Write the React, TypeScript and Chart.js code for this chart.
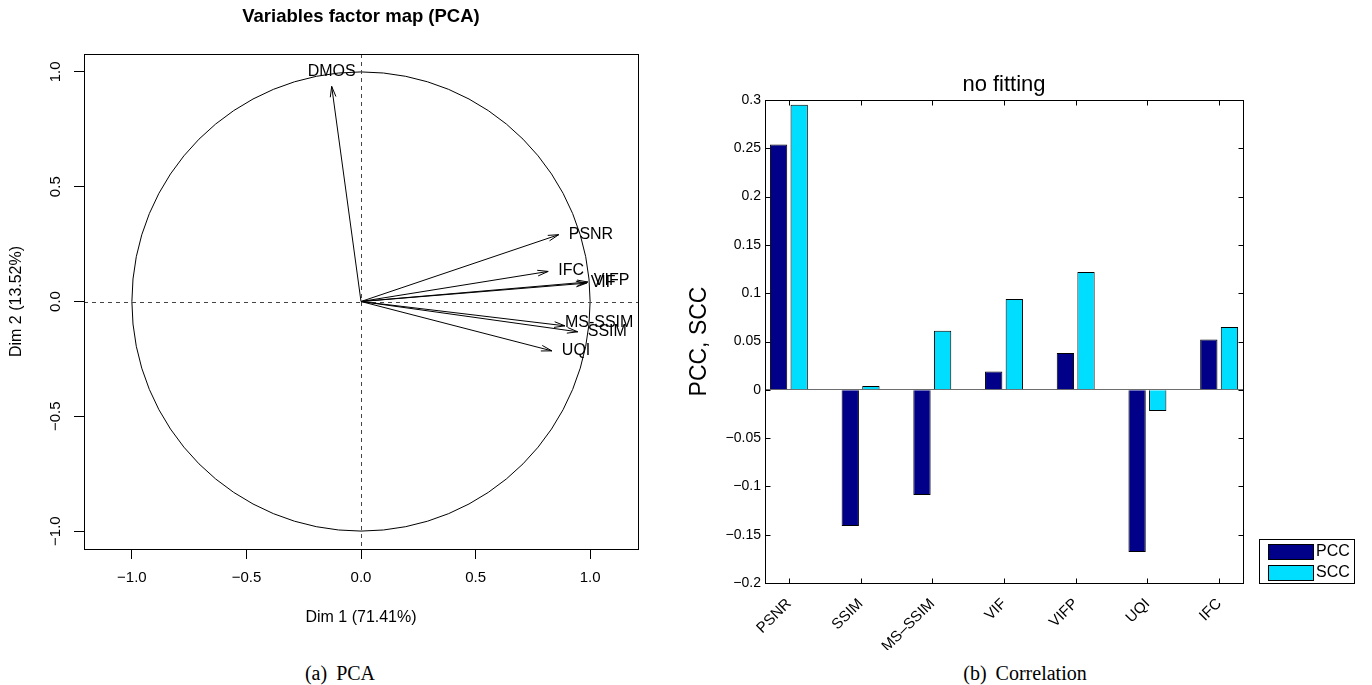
import React, { useEffect, useRef } from 'react';
import { Chart, registerables } from 'chart.js';

Chart.register(...registerables);

// ---------- PCA (left) data ----------
const PCA_VARS = ['DMOS', 'PSNR', 'IFC', 'VIFP', 'VIF', 'MS-SSIM', 'SSIM', 'UQI'];
const PCA_DIM1 = [-0.128, 0.863, 0.817, 0.99, 0.985, 0.89, 0.946, 0.833];
const PCA_DIM2 = [0.937, 0.291, 0.131, 0.085, 0.08, -0.106, -0.132, -0.215];
const PCA_TICKS = [-1, -0.5, 0, 0.5, 1];

// ---------- Correlation (right) data ----------
const METRICS = ['PSNR', 'SSIM', 'MS\u2013SSIM', 'VIF', 'VIFP', 'UQI', 'IFC'];
const PCC = [0.254, -0.141, -0.109, 0.019, 0.038, -0.168, 0.052];
const SCC = [0.295, 0.004, 0.061, 0.094, 0.122, -0.022, 0.065];
const CORR_TICKS = [-0.2, -0.15, -0.1, -0.05, 0, 0.05, 0.1, 0.15, 0.2, 0.25, 0.3];

const SANS = "'Liberation Sans', Arial, Helvetica, sans-serif";

// label placement styling for PCA arrows (pixel nudges, style only)
const LABEL_NUDGE: Record<string, [number, number, CanvasTextAlign, CanvasTextBaseline]> = {
  DMOS: [0, -7, 'center', 'bottom'],
  PSNR: [10, 0, 'left', 'middle'],
  IFC: [10, -1, 'left', 'middle'],
  VIFP: [6, -1, 'left', 'middle'],
  VIF: [4, -1, 'left', 'middle'],
  'MS-SSIM': [0, -3, 'left', 'middle'],
  SSIM: [10, 0, 'left', 'middle'],
  UQI: [10, 0, 'left', 'middle'],
};

const minusFmt = (s: string) => s.replace('-', '\u2212');

const pcaPlugin = {
  id: 'pcaDecor',
  beforeDatasetsDraw(chart: any) {
    const { ctx, chartArea: ca, scales } = chart;
    const xs = scales.x, ys = scales.y;
    const cx = xs.getPixelForValue(0), cy = ys.getPixelForValue(0);
    const rx = xs.getPixelForValue(1) - cx;
    const ry = cy - ys.getPixelForValue(1);
    ctx.save();
    ctx.strokeStyle = '#000';
    ctx.lineWidth = 1;
    ctx.beginPath();
    ctx.ellipse(cx, cy, rx, ry, 0, 0, Math.PI * 2);
    ctx.stroke();
    ctx.setLineDash([4, 4]);
    ctx.strokeStyle = '#444';
    ctx.beginPath();
    ctx.moveTo(ca.left, Math.round(cy) + 0.5);
    ctx.lineTo(ca.right, Math.round(cy) + 0.5);
    ctx.moveTo(Math.round(cx) + 0.5, ca.top);
    ctx.lineTo(Math.round(cx) + 0.5, ca.bottom);
    ctx.stroke();
    ctx.restore();
  },
  afterDatasetsDraw(chart: any) {
    const { ctx, chartArea: ca } = chart;
    ctx.save();
    ctx.strokeStyle = '#000';
    ctx.fillStyle = '#000';
    ctx.lineWidth = 1;
    chart.data.datasets.forEach((ds: any, i: number) => {
      const meta = chart.getDatasetMeta(i);
      const p0 = meta.data[0], p1 = meta.data[1];
      const ang = Math.atan2(p1.y - p0.y, p1.x - p0.x);
      const len = 11, spread = (15 * Math.PI) / 180;
      ctx.beginPath();
      ctx.moveTo(p1.x - len * Math.cos(ang - spread), p1.y - len * Math.sin(ang - spread));
      ctx.lineTo(p1.x, p1.y);
      ctx.lineTo(p1.x - len * Math.cos(ang + spread), p1.y - len * Math.sin(ang + spread));
      ctx.stroke();
      const nd = LABEL_NUDGE[ds.label] || [8, 0, 'left', 'middle'];
      ctx.font = `16px ${SANS}`;
      ctx.textAlign = nd[2];
      ctx.textBaseline = nd[3];
      ctx.fillText(ds.label, p1.x + nd[0], p1.y + nd[1]);
    });
    ctx.strokeRect(Math.round(ca.left) + 0.5, Math.round(ca.top) + 0.5, Math.round(ca.right - ca.left), Math.round(ca.bottom - ca.top));
    ctx.restore();
  },
};

const corrPlugin = {
  id: 'corrDecor',
  afterDraw(chart: any) {
    const { ctx, chartArea: ca, scales } = chart;
    const xs = scales.x, ys = scales.y;
    ctx.save();
    ctx.strokeStyle = '#000';
    ctx.lineWidth = 1;
    const L = Math.round(ca.left) + 0.5, R = Math.round(ca.right) + 0.5;
    const T = Math.round(ca.top) + 0.5, B = Math.round(ca.bottom) + 0.5;
    ctx.strokeRect(L, T, R - L, B - T);
    ctx.beginPath();
    ys.ticks.forEach((t: any) => {
      const y = Math.round(ys.getPixelForValue(t.value)) + 0.5;
      ctx.moveTo(L, y); ctx.lineTo(L + 5, y);
      ctx.moveTo(R, y); ctx.lineTo(R - 5, y);
    });
    xs.ticks.forEach((t: any) => {
      const x = Math.round(xs.getPixelForValue(t.value)) + 0.5;
      ctx.moveTo(x, T); ctx.lineTo(x, T + 5);
      ctx.moveTo(x, B); ctx.lineTo(x, B - 5);
    });
    ctx.stroke();
    // legend box
    const x0 = Math.round(ca.right) + 16, y0 = Math.round(ca.bottom) - 44;
    ctx.strokeRect(x0 + 0.5, y0 + 0.5, 95, 44);
    chart.data.datasets.forEach((ds: any, i: number) => {
      const sy = y0 + 5 + i * 21;
      ctx.fillStyle = ds.backgroundColor;
      ctx.fillRect(x0 + 9, sy, 45, 15);
      ctx.strokeRect(x0 + 9.5, sy + 0.5, 45, 15);
      ctx.fillStyle = '#000';
      ctx.font = `16px ${SANS}`;
      ctx.textAlign = 'left';
      ctx.textBaseline = 'middle';
      ctx.fillText(ds.label, x0 + 57, sy + 8);
    });
    ctx.restore();
  },
};

function PcaChart() {
  const ref = useRef<HTMLCanvasElement>(null);
  useEffect(() => {
    const chart = new Chart(ref.current as HTMLCanvasElement, {
      type: 'scatter',
      data: {
        datasets: PCA_VARS.map((name, i) => ({
          label: name,
          data: [{ x: 0, y: 0 }, { x: PCA_DIM1[i], y: PCA_DIM2[i] }],
          showLine: true,
          borderColor: '#000',
          borderWidth: 1,
          pointRadius: 0,
          fill: false,
        })),
      },
      options: {
        animation: false,
        responsive: false,
        maintainAspectRatio: false,
        layout: { padding: { left: 0, right: 42, top: 0, bottom: 0 } },
        plugins: {
          legend: { display: false },
          tooltip: { enabled: false },
          title: {
            display: true,
            fullSize: false,
            text: 'Variables factor map (PCA)',
            color: '#000',
            font: { family: SANS, size: 18.5, weight: 'bold' },
            padding: { top: 6, bottom: 25.8 },
          },
        },
        scales: {
          x: {
            type: 'linear',
            min: -1.209,
            max: 1.209,
            afterBuildTicks: (s: any) => { s.ticks = PCA_TICKS.map((v) => ({ value: v })); },
            afterFit: (s: any) => { s.height = 101; },
            grid: { display: true, drawOnChartArea: false, drawTicks: true, tickLength: 10, tickColor: '#000', color: '#000' },
            border: { display: false },
            ticks: { padding: 10, color: '#000', font: { family: SANS, size: 15 }, callback: (v: any) => minusFmt(Number(v).toFixed(1)) },
            title: { display: true, text: 'Dim 1 (71.41%)', color: '#000', font: { family: SANS, size: 16 }, padding: { top: 0, bottom: 23 } },
          },
          y: {
            type: 'linear',
            min: -1.078,
            max: 1.078,
            afterBuildTicks: (s: any) => { s.ticks = PCA_TICKS.map((v) => ({ value: v })); },
            afterFit: (s: any) => { s.width = 84; },
            grid: { display: true, drawOnChartArea: false, drawTicks: true, tickLength: 10, tickColor: '#000', color: '#000' },
            border: { display: false },
            ticks: { padding: 3, minRotation: 90, maxRotation: 90, crossAlign: 'center', color: '#000', font: { family: SANS, size: 15 }, callback: (v: any) => minusFmt(Number(v).toFixed(1)) },
            title: { display: true, text: 'Dim 2 (13.52%)', color: '#000', font: { family: SANS, size: 16 }, padding: { top: 7, bottom: 0 } },
          },
        },
      } as any,
      plugins: [pcaPlugin],
    });
    return () => chart.destroy();
  }, []);
  return <canvas ref={ref} width={680} height={650} style={{ display: 'block' }} />;
}

function CorrChart() {
  const ref = useRef<HTMLCanvasElement>(null);
  useEffect(() => {
    const chart = new Chart(ref.current as HTMLCanvasElement, {
      type: 'bar',
      data: {
        datasets: [
          {
            label: 'PCC',
            data: PCC.map((v, i) => ({ x: i + 1, y: v })),
            backgroundColor: '#000088',
            borderColor: '#000',
            borderWidth: 1,
            categoryPercentage: 0.575,
            barPercentage: 0.84,
          },
          {
            label: 'SCC',
            data: SCC.map((v, i) => ({ x: i + 1, y: v })),
            backgroundColor: '#00DEFF',
            borderColor: '#000',
            borderWidth: 1,
            categoryPercentage: 0.575,
            barPercentage: 0.84,
          },
        ],
      },
      options: {
        animation: false,
        responsive: false,
        maintainAspectRatio: false,
        layout: { padding: { left: 0, right: 129, top: 0, bottom: 0 } },
        plugins: {
          legend: { display: false },
          tooltip: { enabled: false },
          title: {
            display: true,
            fullSize: false,
            text: 'no fitting',
            color: '#000',
            font: { family: SANS, size: 22, weight: 'normal' },
            padding: { top: 72, bottom: 1.6 },
          },
        },
        scales: {
          x: {
            type: 'linear',
            min: 0.667,
            max: 7.333,
            offset: false,
            afterBuildTicks: (s: any) => { s.ticks = METRICS.map((_, i) => ({ value: i + 1 })); },
            afterFit: (s: any) => { s.height = 67; },
            grid: { display: false },
            border: { display: false },
            ticks: {
              autoSkip: false,
              minRotation: 45,
              maxRotation: 45,
              padding: 4,
              color: '#000',
              font: { family: SANS, size: 15 },
              callback: (v: any) => METRICS[Math.round(Number(v)) - 1],
            },
          },
          y: {
            type: 'linear',
            min: -0.2,
            max: 0.3,
            afterBuildTicks: (s: any) => { s.ticks = CORR_TICKS.map((v) => ({ value: v })); },
            afterFit: (s: any) => { s.width = 85; },
            grid: {
              drawTicks: false,
              lineWidth: 1,
              color: (c: any) => (c.tick && Math.abs(c.tick.value) < 1e-9 ? '#6e6e6e' : 'rgba(0,0,0,0)'),
            },
            border: { display: false },
            ticks: {
              padding: 4,
              color: '#000',
              font: { family: SANS, size: 14 },
              callback: (v: any) => minusFmt(String(Math.round(Number(v) * 100) / 100)),
            },
            title: { display: true, text: 'PCC, SCC', color: '#000', font: { family: SANS, size: 23 }, padding: { top: 6, bottom: 0 } },
          },
        },
      } as any,
      plugins: [corrPlugin],
    });
    return () => chart.destroy();
  }, []);
  return <canvas ref={ref} width={692} height={650} style={{ display: 'block' }} />;
}

const captionStyle: React.CSSProperties = {
  position: 'absolute',
  top: 661,
  fontFamily: "'Liberation Serif', 'Times New Roman', serif",
  fontSize: 20,
  lineHeight: '24px',
  color: '#000',
  textAlign: 'center',
  width: 300,
  wordSpacing: 4,
  whiteSpace: 'nowrap',
};

export default function App() {
  return (
    <div style={{ position: 'absolute', left: 0, top: 0, width: 1372, height: 685, background: '#fff', overflow: 'hidden' }}>
      <div style={{ position: 'absolute', left: 0, top: 0 }}>
        <PcaChart />
      </div>
      <div style={{ position: 'absolute', left: 680, top: 0 }}>
        <CorrChart />
      </div>
      <div style={{ ...captionStyle, left: 340 - 150 }}>(a) PCA</div>
      <div style={{ ...captionStyle, left: 1025 - 150 }}>(b) Correlation</div>
    </div>
  );
}
